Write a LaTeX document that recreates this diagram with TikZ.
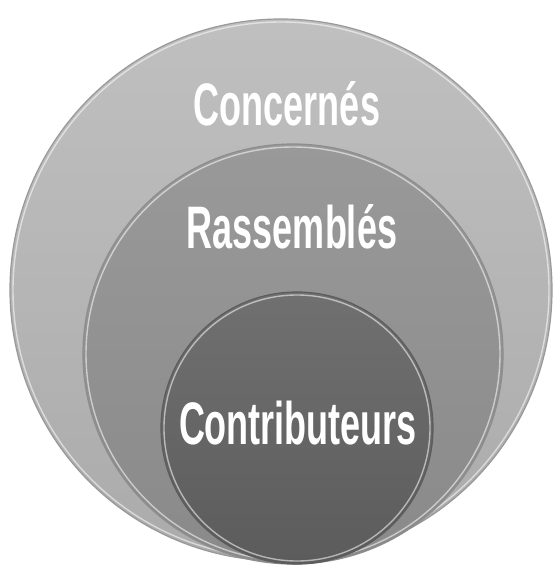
\documentclass[tikz,border=0pt]{standalone}
\usepackage{fontspec}
\usepackage{tikz}
\newfontfamily\ringfont[FakeStretch=0.6]{Liberation Sans}
\definecolor{bfbfbf}{rgb}{0.75,0.75,0.75}
\definecolor{ababab}{rgb}{0.67,0.67,0.67}
\definecolor{999999}{rgb}{0.6,0.6,0.6}
\definecolor{8a8a8a}{rgb}{0.54,0.54,0.54}
\definecolor{717171}{rgb}{0.44,0.44,0.44}
\definecolor{5c5c5c}{rgb}{0.36,0.36,0.36}
\tikzset{
  ring/.style={line width=1.2pt,draw=#1},
  rim/.style={draw=white,opacity=0.55,line width=1.4pt},
  ringlabel/.style={color=white,font=\ringfont\bfseries\fontsize{60}{60}\selectfont,inner sep=0pt}
}

\begin{document}
\begin{tikzpicture}[line cap=round,line join=round,x=1pt,y=-1pt]
    \useasboundingbox (0,0) rectangle (553,565);
    \begin{scope}
    \clip (0,0) rectangle (553,565);
    \shade[top color=bfbfbf,bottom color=ababab,ring=999999] (281,290) circle (271pt);
    \draw[rim] (281,290) circle (268pt);
    \shade[top color=999999,bottom color=8a8a8a,ring=717171!80] (293,354) circle (210pt);
    \draw[rim] (293,354) circle (207pt);
    \shade[top color=717171,bottom color=5c5c5c,ring=5c5c5c] (297,428) circle (136pt);
    \draw[rim] (297,428) circle (133pt);
    \end{scope}
    \node[ringlabel] (concernes) at (287,104) {Concernés};
    \node[ringlabel] (rassembles) at (292,227) {Rassemblés};
    \node[ringlabel] (contributeurs) at (298,423) {Contributeurs};
\end{tikzpicture}
\end{document}
